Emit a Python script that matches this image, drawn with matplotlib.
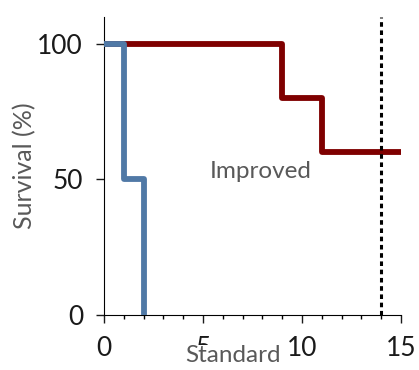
import matplotlib.pyplot as plt
import numpy as np

plt.rcParams['font.family'] = ['Lato', 'DejaVu Sans']

# survival step data (time, percent)
std_time = [0, 1, 2]
std_surv = [100, 50, 0]
imp_time = [0, 9, 11, 15]
imp_surv = [100, 80, 60, 60]
cutoff = 14

fig = plt.figure(figsize=(4.19, 3.70), dpi=100)
ax = fig.add_axes([0.248, 0.149, 0.709, 0.805])

ax.step(imp_time, imp_surv, where='post', color='#7f0000', lw=4.2, zorder=2)
# standard arm drops to zero at the last time point
ax.step(std_time + [std_time[-1]], std_surv + [0], where='post', color='#5079a6', lw=4.2, zorder=3)
ax.axvline(cutoff, color='black', lw=2.2, ls=(0, (1.5, 1.2)), zorder=4)

ax.set_xlim(0, 15)
ax.set_ylim(0, 110)
ax.set_xticks([0, 5, 10, 15])
ax.set_xticks(np.arange(0, 16, 1), minor=True)
ax.set_yticks([0, 50, 100])
ax.tick_params(axis='both', labelsize=19, colors='#1a1a1a', direction='out', length=6, width=1, pad=9)
ax.tick_params(axis='x', which='minor', direction='out', length=3, width=1)
ax.spines['top'].set_visible(False)
ax.spines['right'].set_visible(False)

ax.set_ylabel('Survival (%)', fontsize=18, color='#595959', labelpad=1)
ax.text(7.9, 53, 'Improved', fontsize=17.5, color='#595959', ha='center', va='center')
ax.text(6.5, -17.3, 'Standard', fontsize=17.5, color='#595959', ha='center', va='baseline',
        clip_on=False, zorder=10,
        bbox=dict(facecolor='white', edgecolor='none', pad=0))

plt.savefig('out.png', dpi=100)
